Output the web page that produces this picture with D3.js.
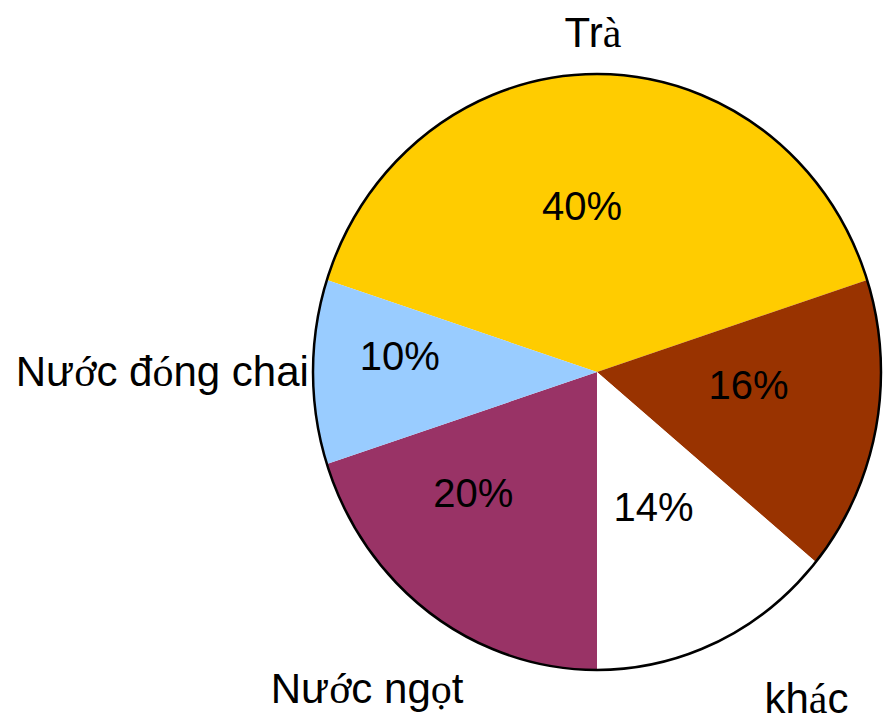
<!DOCTYPE html>
<html>
<head>
<meta charset="utf-8">
<script src="https://cdn.jsdelivr.net/npm/d3@7"></script>
<style>
  body { margin: 0; background: #fff; }
  text { font-family: "Liberation Sans", Arial, sans-serif; font-size: 40px; fill: #000; }
  text.name { font-size: 42px; }
  .acc { font-family: "Liberation Serif", "Times New Roman", serif; }
</style>
</head>
<body>
<svg width="883" height="722"></svg>
<script>
// data, clockwise from the left edge of "Trà"
var categories = ["Trà", "", "khác", "Nước ngọt", "Nước đóng chai"];
var values = [40, 16, 14, 20, 10];
var colors = ["#ffcc00", "#993300", "#ffffff", "#993366", "#99ccff"];

// accented letters came out in a serif face in the original
var serifChars = "àáớóọ";

var svg = d3.select("svg"),
    cx = 597, cy = 372,
    ry = 298, rx = 284;

var pie = d3.pie().sort(null).value(function(d) { return d.value; })
    .startAngle(-0.4 * Math.PI).endAngle(1.6 * Math.PI);

var data = pie(values.map(function(v, i) {
  return { name: categories[i], value: v, color: colors[i] };
}));

var arc = d3.arc().innerRadius(0).outerRadius(ry);

var g = svg.append("g")
    .attr("transform", "translate(" + cx + "," + cy + ") scale(" + (rx / ry) + ",1)");

g.selectAll("path.slice")
  .data(data)
  .enter().append("path")
    .attr("class", "slice")
    .attr("d", arc)
    .style("fill", function(d) { return d.data.color; });

g.append("ellipse")
    .attr("rx", ry).attr("ry", ry)
    .style("fill", "none")
    .style("stroke", "#000")
    .style("stroke-width", 2.6);

function point(a, r) {
  return [cx + (rx / ry) * r * Math.sin(a), cy - r * Math.cos(a)];
}
function mid(d) { return (d.startAngle + d.endAngle) / 2; }

// hand nudges so the labels sit where the original put them
var pctNudge = [[-15, 12], [-2, -4], [-10, 1], [-32, 2], [-41, -2]];
var nameNudge = [[-4, 9], [0, 0], [74, 39], [-43, 61], [30, 14]];
var nameAnchor = ["middle", "middle", "middle", "middle", "end"];

svg.append("g").selectAll("text")
  .data(data)
  .enter().append("text")
    .attr("text-anchor", "middle")
    .attr("x", function(d, i) { return point(mid(d), ry * 0.55)[0] + pctNudge[i][0]; })
    .attr("y", function(d, i) { return point(mid(d), ry * 0.55)[1] + pctNudge[i][1]; })
    .text(function(d) { return d.data.value + "%"; });

var names = svg.append("g").selectAll("text")
  .data(data.filter(function(d) { return d.data.name; }))
  .enter().append("text")
    .attr("class", "name")
    .attr("text-anchor", function(d) { return nameAnchor[d.index]; })
    .attr("x", function(d) { return point(mid(d), ry * 1.12)[0] + nameNudge[d.index][0]; })
    .attr("y", function(d) { return point(mid(d), ry * 1.12)[1] + nameNudge[d.index][1]; });

names.each(function(d) {
  var t = d3.select(this);
  Array.from(d.data.name).forEach(function(ch) {
    t.append("tspan")
      .attr("class", serifChars.indexOf(ch) >= 0 ? "acc" : null)
      .text(ch);
  });
});
</script>
</body>
</html>
